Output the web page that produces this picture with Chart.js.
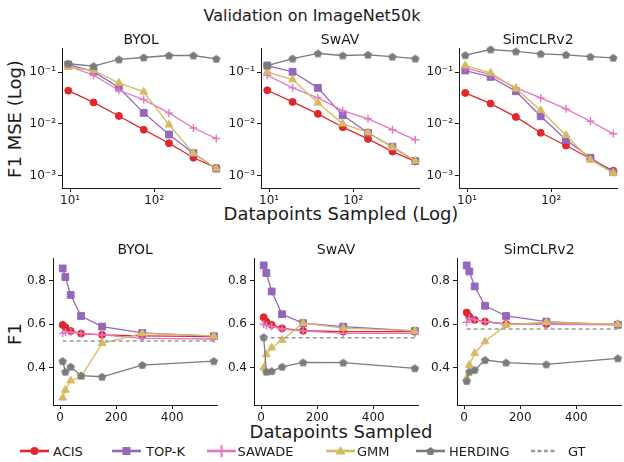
<!DOCTYPE html>
<html>
<head>
<meta charset="utf-8">
<script src="https://cdn.jsdelivr.net/npm/chart.js@4.4.0/dist/chart.umd.min.js"></script>
<style>
  body { margin: 0; background: #fff; }
  #fig { position: relative; width: 624px; height: 462px; overflow: hidden;
         font-family: 'DejaVu Sans', sans-serif; color: #1a1a1a; background: #fff; }
  canvas { position: absolute; }
  .lbl { position: absolute; white-space: nowrap; text-align: center; }
  .rot { transform: rotate(-90deg); }
  .leg { position: absolute; top: 443px; height: 16px; display: flex; align-items: center;
         font-size: 13px; white-space: nowrap; }
  .leg svg { display: block; }
</style>
</head>
<body>
<div id="fig">
  <div class="lbl" style="left:112px; top:5px; width:400px; height:22px; line-height:22px; font-size:16px;">Validation on ImageNet50k</div>
  <div class="lbl rot" style="left:-65px; top:107px; width:160px; height:24px; line-height:24px; font-size:18px;">F1 MSE (Log)</div>
  <div class="lbl" style="left:191px; top:202px; width:300px; height:24px; line-height:24px; font-size:18px;">Datapoints Sampled (Log)</div>
  <div class="lbl rot" style="left:-25px; top:322px; width:80px; height:24px; line-height:24px; font-size:18px;">F1</div>
  <div class="lbl" style="left:191px; top:420px; width:300px; height:24px; line-height:24px; font-size:18px;">Datapoints Sampled</div>
</div>
<script>
// number of datapoints sampled (x for every panel)
const sampleSizes = [9.5, 19, 38, 75, 150, 293, 548];
const backbones = ['BYOL', 'SwAV', 'SimCLRv2'];
const methods = ['ACIS', 'TOP-K', 'SAWADE', 'GMM', 'HERDING'];

// F1 MSE, rows follow `methods`
const mseByol = [
  [0.044, 0.026, 0.0142, 0.0077, 0.0042, 0.0022, 0.0014],
  [0.141, 0.104, 0.050, 0.0163, 0.0062, 0.0027, 0.00135],
  [0.131, 0.0875, 0.0447, 0.0295, 0.0163, 0.0083, 0.0052],
  [0.125, 0.108, 0.062, 0.0417, 0.0096, 0.0027, 0.00135],
  [0.146, 0.131, 0.177, 0.193, 0.211, 0.211, 0.182]
];
const mseSwav = [
  [0.0447, 0.0266, 0.0156, 0.0086, 0.0051, 0.0029, 0.00187],
  [0.135, 0.102, 0.0498, 0.0146, 0.0067, 0.0036, 0.0019],
  [0.0875, 0.0498, 0.0318, 0.018, 0.0125, 0.0077, 0.0049],
  [0.102, 0.072, 0.0255, 0.010, 0.0068, 0.0035, 0.0019],
  [0.135, 0.184, 0.231, 0.211, 0.218, 0.200, 0.184]
];
const mseSimclr = [
  [0.0398, 0.0247, 0.0136, 0.0067, 0.0038, 0.0021, 0.00123],
  [0.108, 0.0813, 0.0428, 0.014, 0.0049, 0.0022, 0.00115],
  [0.122, 0.090, 0.0498, 0.0318, 0.0195, 0.0112, 0.0064],
  [0.135, 0.097, 0.0476, 0.0183, 0.006, 0.002, 0.00111],
  [0.214, 0.276, 0.253, 0.227, 0.218, 0.200, 0.190]
];

// F1 scores
const f1Byol = [
  [0.597, 0.586, 0.569, 0.557, 0.551, 0.546, 0.543],
  [0.857, 0.817, 0.735, 0.638, 0.589, 0.560, 0.545],
  [0.558, 0.563, 0.563, 0.558, 0.551, 0.535, 0.532],
  [0.261, 0.297, 0.340, 0.358, 0.512, 0.558, 0.546],
  [0.430, 0.381, 0.404, 0.363, 0.358, 0.412, 0.430]
];
const f1Swav = [
  [0.632, 0.612, 0.597, 0.581, 0.570, 0.566, 0.566],
  [0.871, 0.836, 0.751, 0.646, 0.605, 0.589, 0.569],
  [0.600, 0.594, 0.589, 0.578, 0.569, 0.558, 0.558],
  [0.400, 0.461, 0.492, 0.527, 0.605, 0.582, 0.569],
  [0.540, 0.381, 0.384, 0.404, 0.424, 0.423, 0.397]
];
const f1Simclr = [
  [0.654, 0.635, 0.620, 0.612, 0.601, 0.601, 0.600],
  [0.871, 0.843, 0.774, 0.685, 0.638, 0.612, 0.597],
  [0.609, 0.628, 0.620, 0.612, 0.600, 0.600, 0.597],
  [0.351, 0.412, 0.466, 0.520, 0.597, 0.609, 0.600],
  [0.338, 0.381, 0.389, 0.435, 0.423, 0.415, 0.443]
];
const gtF1 = [0.523, 0.538, 0.578];

// ticks
const logXTicks = [10, 100];
const logXLabels = ['10¹', '10²'];
const logYTicks = [0.001, 0.01, 0.1];
const logYLabels = ['10⁻³', '10⁻²', '10⁻¹'];
const f1XTicks = [0, 200, 400];
const f1YTicks = [0.4, 0.6, 0.8];

const colors = ['#e0282c', '#9467bd', '#e377c2', '#d6ba62', '#7b7b7b'];
const gtColor = '#9a9a9a';
const ink = '#1a1a1a';
const font = "'DejaVu Sans', sans-serif";

// pentagon marker for HERDING
const pent = document.createElement('canvas');
pent.width = 10; pent.height = 10;
(function () {
  const c = pent.getContext('2d');
  c.fillStyle = colors[4];
  c.beginPath();
  for (let k = 0; k < 5; k++) {
    const a = -Math.PI / 2 + k * 2 * Math.PI / 5;
    const px = 5 + 4.4 * Math.cos(a), py = 5.3 + 4.4 * Math.sin(a);
    k ? c.lineTo(px, py) : c.moveTo(px, py);
  }
  c.closePath();
  c.fill();
})();
const pointStyles = ['circle', 'rect', 'cross', 'triangle', pent];
const pointRadius = [3.5, 4.8, 4, 4.5, 4];

const fig = document.getElementById('fig');

function makeChart(box, rows, gt, log, title) {
  const yw = log ? 50 : 40, xh = 24, th = 19, padR = 4;
  const cv = document.createElement('canvas');
  cv.width = yw + box.w + padR;
  cv.height = th + box.h + xh;
  cv.style.left = (box.l - yw) + 'px';
  cv.style.top = (box.t - th) + 'px';
  fig.appendChild(cv);

  const datasets = rows.map((vals, i) => ({
    label: methods[i],
    data: sampleSizes.map((x, j) => ({ x: x, y: vals[j] })),
    borderColor: colors[i],
    backgroundColor: colors[i],
    pointBackgroundColor: colors[i],
    pointBorderColor: colors[i],
    pointStyle: pointStyles[i],
    pointRadius: pointRadius[i],
    pointBorderWidth: i == 2 ? 1.4 : 1,
    borderWidth: 1.3,
    clip: false,
    order: 10 - i
  }));
  if (gt != null) {
    datasets.push({
      label: 'GT',
      data: sampleSizes.map(x => ({ x: x, y: gt })),
      borderColor: gtColor,
      borderDash: [4, 3],
      borderWidth: 1.5,
      pointRadius: 0,
      order: 0
    });
  }

  const xt = log ? logXTicks : f1XTicks;
  const yt = log ? logYTicks : f1YTicks;
  const axis = (ticks, labels, fit) => ({
    type: log ? 'logarithmic' : 'linear',
    bounds: 'data',
    afterBuildTicks: s => { s.ticks = ticks.map(v => ({ value: v })); },
    afterFit: fit,
    ticks: {
      autoSkip: false, maxRotation: 0,
      callback: (v, i) => labels ? labels[i] : String(ticks[i]),
      font: { family: font, size: 12 }, color: ink, padding: 2
    },
    grid: { drawOnChartArea: false, drawTicks: true, tickLength: 4, color: ink },
    border: { display: true, color: ink, width: 1 }
  });

  const xAxis = axis(xt, log ? logXLabels : null, s => { s.height = xh; });
  const yAxis = axis(yt, log ? logYLabels : null, s => { s.width = yw; });
  if (log) {
    xAxis.min = 8; xAxis.max = 610;
    yAxis.min = 0.00057; yAxis.max = 0.295;
  } else {
    xAxis.min = -25; xAxis.max = 560;
    yAxis.min = 0.228; yAxis.max = 0.905;
    yAxis.ticks.callback = (v, i) => yt[i].toFixed(1);
    yAxis.ticks.padding = 3;
  }

  new Chart(cv, {
    type: 'line',
    data: { datasets: datasets },
    options: {
      responsive: false,
      animation: false,
      devicePixelRatio: 1,
      layout: { padding: { left: 0, right: padR, top: 0, bottom: 0 } },
      plugins: {
        legend: { display: false },
        tooltip: { enabled: false },
        title: {
          display: true, text: title, fullSize: false, color: ink,
          font: { family: font, size: 14, weight: 'normal', lineHeight: 1 },
          padding: { top: 4, bottom: 1 }
        }
      },
      scales: { x: xAxis, y: yAxis }
    }
  });
}

const topLefts = [62, 261, 459];
const botLefts = [53, 254, 457];
const mseData = [mseByol, mseSwav, mseSimclr];
const f1Data = [f1Byol, f1Swav, f1Simclr];
backbones.forEach((b, k) => {
  makeChart({ l: topLefts[k], t: 48, w: 160, h: 140 }, mseData[k], null, true, b);
  makeChart({ l: botLefts[k], t: 258, w: 166, h: 147 }, f1Data[k], gtF1[k], false, b);
});

// legend
function icon(i) {
  const c = i < 5 ? colors[i] : gtColor;
  let s = '<svg width="29" height="14" viewBox="0 0 29 14">';
  if (i == 5) {
    return s + '<line x1="0" y1="7" x2="25" y2="7" stroke="' + c + '" stroke-width="2.6" stroke-dasharray="4 2.5"/></svg>';
  }
  s += '<line x1="0" y1="7" x2="29" y2="7" stroke="' + c + '" stroke-width="2.6"/>';
  if (i == 0) s += '<circle cx="14.5" cy="7" r="4" fill="' + c + '"/>';
  if (i == 1) s += '<rect x="10.5" y="3" width="8" height="8" fill="' + c + '"/>';
  if (i == 2) s += '<line x1="14.5" y1="1" x2="14.5" y2="13" stroke="' + c + '" stroke-width="2"/>';
  if (i == 3) s += '<polygon points="14.5,2 19.5,10.5 9.5,10.5" fill="' + c + '"/>';
  if (i == 4) {
    let p = [];
    for (let k = 0; k < 5; k++) {
      const a = -Math.PI / 2 + k * 2 * Math.PI / 5;
      p.push((14.5 + 4.4 * Math.cos(a)).toFixed(2) + ',' + (7.4 + 4.4 * Math.sin(a)).toFixed(2));
    }
    s += '<polygon points="' + p.join(' ') + '" fill="' + c + '"/>';
  }
  return s + '</svg>';
}
const legendNames = methods.concat(['GT']);
const legendLefts = [20, 112, 207, 326, 416, 531];
const legendGaps = [4, 5, 1.5, 2, 4, 8];
legendNames.forEach((name, i) => {
  const d = document.createElement('div');
  d.className = 'leg';
  d.style.left = legendLefts[i] + 'px';
  d.innerHTML = icon(i) + '<span style="margin-left:' + legendGaps[i] + 'px">' + name + '</span>';
  fig.appendChild(d);
});
</script>
</body>
</html>
